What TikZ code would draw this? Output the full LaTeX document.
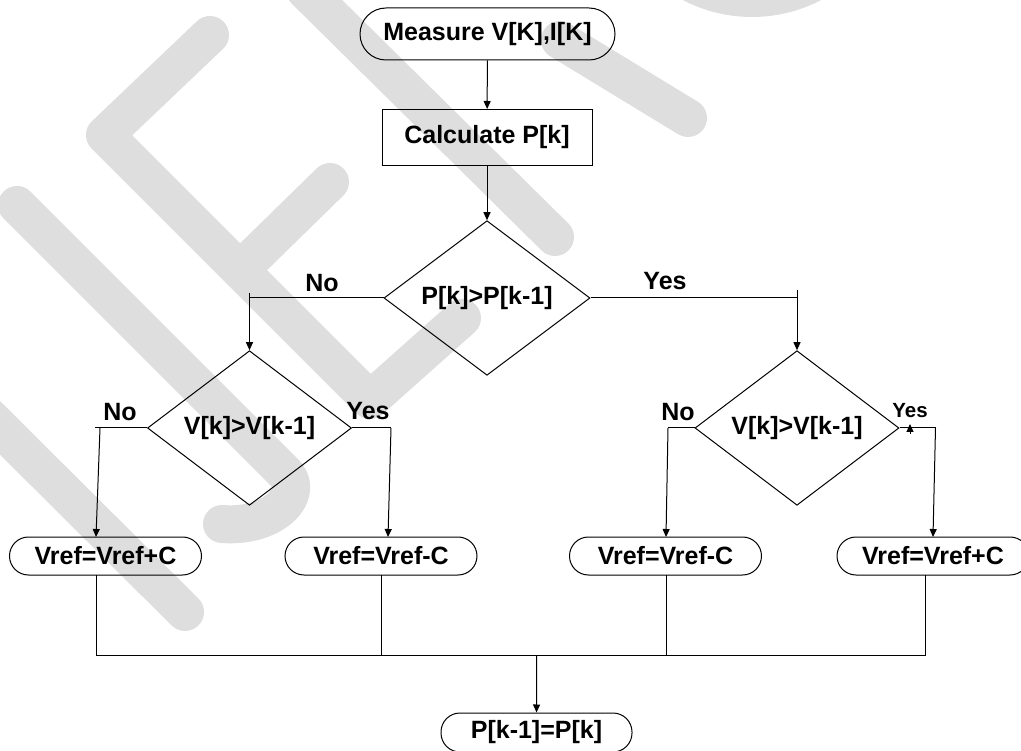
\documentclass[tikz,border=0pt]{standalone}
\usepackage{fontspec}
\setmainfont{Liberation Sans}
\usetikzlibrary{shapes.geometric,arrows.meta}

\begin{document}
\begin{tikzpicture}[x=1pt,y=-1pt,line width=1pt,
    every node/.style={font=\fontsize{25}{30}\selectfont\bfseries,inner sep=0pt},
    term/.style={draw,rounded corners=19pt,minimum width=192pt,minimum height=38pt},
    proc/.style={draw,minimum width=210pt,minimum height=56pt},
    decide/.style={draw,diamond,minimum width=204pt,minimum height=112pt},
    arr/.style={-{Triangle[length=8pt,width=7pt]}},
    wmark/.style={line width=38pt,line cap=round,line join=round,black!13}]
          \useasboundingbox (0,0) rectangle (1021,751);

          % watermark in the background
          \draw[wmark] (-40,388) -- (185,612);
          \draw[wmark] (17,205) -- (285,473) .. controls (305,493) and (275,528) .. (222,524);
          \draw[wmark] (210,35) -- (105,135) -- (370,400) -- (462,318);
          \draw[wmark] (240,270) -- (330,182);
          \draw[wmark] (305,-10) -- (555,237);
          \draw[wmark] (560,40) -- (688,118);
          \draw[wmark] (752,-132) circle (130);

          \node[term,minimum width=255pt,minimum height=52pt,rounded corners=26pt] (measure) at (487.5,34) {Measure V[K],I[K]};
          \node[proc] (calc) at (487,137.5) {Calculate P[k]};
          \node[decide,minimum width=206pt,minimum height=114pt] (pcmp) at (487,298) {P[k]>P[k-1]};
          \node[decide] (vcmpl) at (249.5,428) {V[k]>V[k-1]};
          \node[decide] (vcmpr) at (797,428) {V[k]>V[k-1]};
          \node[term] (incl) at (105.5,556) {Vref=Vref+C};
          \node[term] (decl) at (381,556) {Vref=Vref-C};
          \node[term] (decr) at (665.5,556) {Vref=Vref-C};
          \node[term] (incr) at (933,556) {Vref=Vref+C};
          \node[term,minimum width=191pt,minimum height=39pt] (update) at (536.5,732.5) {P[k-1]=P[k]};

          \node (no1) at (322,283) {No};
          \node (yes1) at (665,281) {Yes};
          \node (no2) at (120,412) {No};
          \node (yes2) at (368,411) {Yes};
          \node (no3) at (678,412) {No};
          \node[font=\fontsize{20.5}{24}\selectfont\bfseries] (yes3) at (910,411) {Yes};

          \coordinate (lsplit) at (249.5,298);
          \coordinate (ltop) at (249.5,293);
          \coordinate (rsplit) at (797,298);
          \coordinate (rtop) at (797,290);
          \coordinate (lnoend) at (95,428);
          \coordinate (lnodrop) at (100,428);
          \coordinate (inclin) at (96,537);
          \coordinate (lyes) at (391,428);
          \coordinate (declin) at (388,537);
          \coordinate (rno) at (668,428);
          \coordinate (decrin) at (666,537);
          \coordinate (ryes) at (935.5,428);
          \coordinate (incrin) at (933,537);
          \coordinate (tipa) at (910,434);
          \coordinate (tipb) at (910,424);

          \draw[arr] (measure) -- (calc);
          \draw[arr] (calc) -- (pcmp);
          \draw (pcmp.west) -- (lsplit);
          \draw[arr] (ltop) -- (vcmpl.north);
          \draw (pcmp.east) -- (rsplit);
          \draw[arr] (rtop) -- (vcmpr.north);

          \draw (vcmpl.west) -- (lnoend);
          \draw[arr] (lnodrop) -- (inclin);
          \draw (vcmpl.east) -- (lyes);
          \draw[arr] (lyes) -- (declin);
          \draw (vcmpr.west) -- (rno);
          \draw[arr] (rno) -- (decrin);
          \draw (vcmpr.east) -- (ryes);
          \draw[arr] (ryes) -- (incrin);
          \draw[arr] (tipa) -- (tipb);

          % joining the four updates
          \coordinate (o1) at (96,575);
          \coordinate (o2) at (381,575);
          \coordinate (o3) at (666,575);
          \coordinate (o4) at (925,575);
          \coordinate (m1) at (96,655);
          \coordinate (m2) at (381,655);
          \coordinate (m3) at (666,655);
          \coordinate (m4) at (925,655);
          \coordinate (mjoin) at (536.7,655);
          \draw (o1) -- (m1) -- (m4) -- (o4);
          \draw (o2) -- (m2);
          \draw (o3) -- (m3);
          \draw[arr] (mjoin) -- (update);
\end{tikzpicture}
\end{document}
